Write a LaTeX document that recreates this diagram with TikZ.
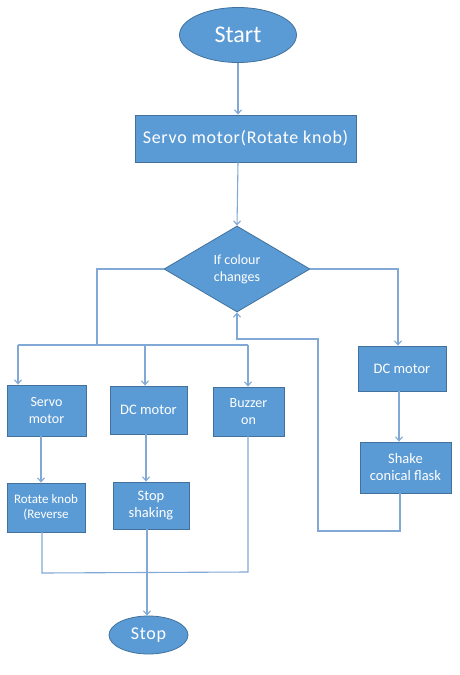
\documentclass[tikz,border=0pt]{standalone}
\usepackage{fontspec}
\setmainfont{Carlito}
\usetikzlibrary{shapes.geometric,arrows.meta}
\definecolor{boxfill}{HTML}{5B9BD5}
\definecolor{boxline}{HTML}{41719C}
\definecolor{conn}{HTML}{82A8D6}
\tikzset{
  box/.style={draw=boxline,fill=boxfill,line width=0.8pt,text=white,align=center,inner sep=1pt},
  oval/.style={box,ellipse},
  decide/.style={box,diamond},
  wire/.style={draw=conn,line width=1.1pt},
  arr/.style={wire,-{Straight Barb[length=4pt,width=7pt]}}
}
\begin{document}
\begin{tikzpicture}[x=1pt,y=-1pt]
\fill[white] (0,0) rectangle (459,675);
\useasboundingbox (0,0) rectangle (459,675);
% nodes
\node[oval,minimum width=117pt,minimum height=55pt,font=\fontsize{24}{28}\selectfont] (start) at (238,35) {Start};
\node[box,minimum width=221pt,minimum height=47pt,font=\fontsize{18}{21}\selectfont\addfontfeature{LetterSpace=4}] (servo) at (245.5,138.5) {Servo motor(Rotate knob)};
\node[decide,minimum width=146pt,minimum height=86pt,font=\fontsize{14}{17}\selectfont] (dia) at (237,269) {If colour\\changes};
\node[box,minimum width=79pt,minimum height=51pt,font=\fontsize{14}{17}\selectfont] (servo2) at (46.5,410.5) {Servo\\motor};
\node[box,minimum width=77pt,minimum height=48pt,font=\fontsize{14.5}{17}\selectfont] (dc2) at (148.5,410) {DC motor};
\node[box,minimum width=71pt,minimum height=49pt,font=\fontsize{14}{17}\selectfont] (buzz) at (248.5,411.5) {Buzzer\\on};
\node[box,minimum width=88pt,minimum height=45pt,font=\fontsize{14.5}{17}\selectfont] (dc1) at (402,368.5) {DC motor};
\node[box,minimum width=91pt,minimum height=51pt,font=\fontsize{14.5}{17}\selectfont] (shake) at (405.5,467.5) {Shake\\conical flask};
\node[box,minimum width=78pt,minimum height=49pt,font=\fontsize{13}{15.5}\selectfont] (rot) at (46,507.5) {Rotate knob\\(Reverse};
\node[box,minimum width=76pt,minimum height=47pt,font=\fontsize{14.5}{17}\selectfont] (stopsh) at (151,505.5) {Stop\\shaking};
\node[oval,minimum width=79pt,minimum height=38pt,font=\fontsize{18}{21}\selectfont\addfontfeature{LetterSpace=4}] (stop) at (148.5,635) {Stop};
% helper coordinates
\coordinate (l1) at (97,269);
\coordinate (l2) at (97,345);
\coordinate (b1) at (18,345);
\coordinate (b2) at (145,345);
\coordinate (b3) at (248,345);
\coordinate (r1) at (398,269);
\coordinate (f0) at (400,493);
\coordinate (f1) at (400,531);
\coordinate (f2) at (318,531);
\coordinate (f3) at (318,339);
\coordinate (f4) at (237,339);
\coordinate (m0) at (248,436);
\coordinate (m1) at (248,572);
\coordinate (m2) at (42,573);
\coordinate (m3) at (42,532);
\coordinate (s0) at (41,436);
\coordinate (d0) at (146,434);
\coordinate (k0) at (147,529);
\coordinate (e0) at (399,391);
% connectors
\draw[arr] (start.south) -- (start.south |- servo.north);
\draw[arr] (start.south |- servo.south) -- (dia.north);
\draw[wire] (dia.west) -- (l1) -- (l2);
\draw[wire] (b1) -- (b3);
\draw[arr] (b1) -- (b1 |- servo2.north);
\draw[arr] (b2) -- (b2 |- dc2.north);
\draw[arr] (b3) -- (b3 |- buzz.north);
\draw[arr] (dia.east) -- (r1) -- (r1 |- dc1.north);
\draw[arr] (e0) -- (e0 |- shake.north);
\draw[arr] (s0) -- (s0 |- rot.north);
\draw[arr] (d0) -- (d0 |- stopsh.north);
\draw[arr] (f0) -- (f1) -- (f2) -- (f3) -- (f4) -- (dia.south);
\draw[wire] (m0) -- (m1) -- (m2) -- (m3);
\draw[arr] (k0) -- (stop.north -| k0);
\end{tikzpicture}
\end{document}
